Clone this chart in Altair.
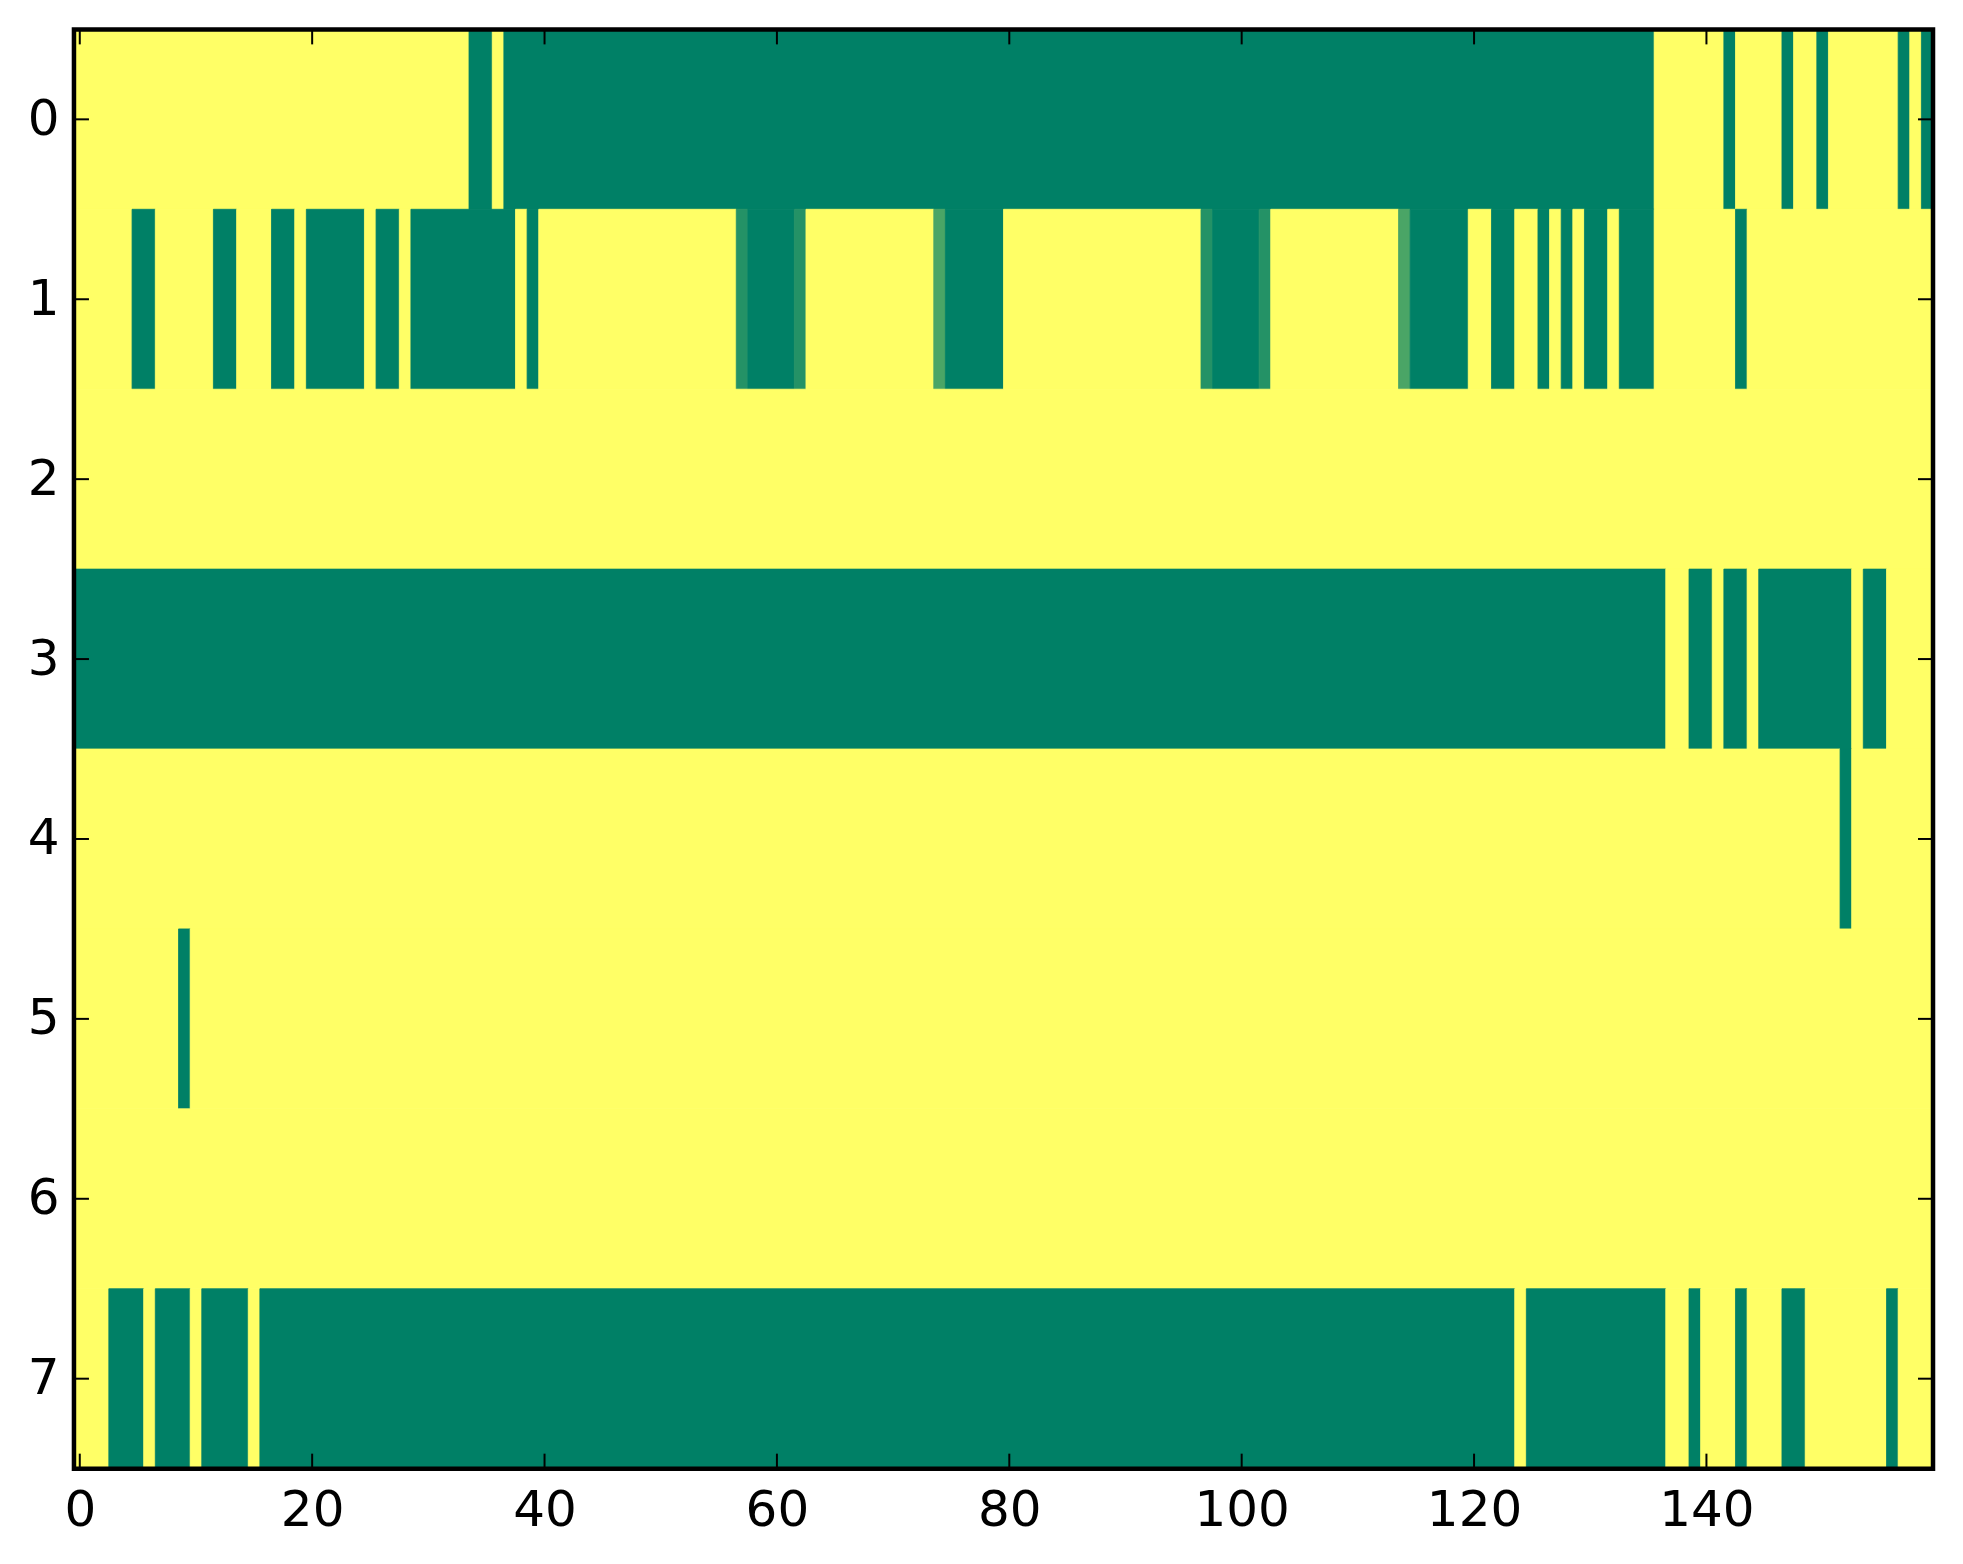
import altair as alt
import pandas as pd

# Cell values: 1 = yellow, 0 = green, A/B = intermediate shades
VALUES = {"Y": 1.0, "G": 0.0, "A": 0.14, "B": 0.29}
N_COLS = 160

# run-length description of each row (symbol, number of consecutive cells)
ROW_0 = [("Y", 34), ("G", 2), ("Y", 1), ("G", 99), ("Y", 6), ("G", 1), ("Y", 4), ("G", 1),
         ("Y", 2), ("G", 1), ("Y", 6), ("G", 1), ("Y", 1), ("G", 1)]
ROW_1 = [("Y", 5), ("G", 2), ("Y", 5), ("G", 2), ("Y", 3), ("G", 2), ("Y", 1), ("G", 5),
         ("Y", 1), ("G", 2), ("Y", 1), ("G", 9), ("Y", 1), ("G", 1), ("Y", 17), ("A", 1),
         ("G", 4), ("A", 1), ("Y", 11), ("B", 1), ("G", 5), ("Y", 17), ("A", 1), ("G", 4),
         ("A", 1), ("Y", 11), ("B", 1), ("G", 5), ("Y", 2), ("G", 2), ("Y", 2), ("G", 1),
         ("Y", 1), ("G", 1), ("Y", 1), ("G", 2), ("Y", 1), ("G", 3), ("Y", 7), ("G", 1),
         ("Y", 16)]
ROW_2 = [("Y", 160)]
ROW_3 = [("G", 137), ("Y", 2), ("G", 2), ("Y", 1), ("G", 2), ("Y", 1), ("G", 8), ("Y", 1),
         ("G", 2), ("Y", 4)]
ROW_4 = [("Y", 152), ("G", 1), ("Y", 7)]
ROW_5 = [("Y", 9), ("G", 1), ("Y", 150)]
ROW_6 = [("Y", 160)]
ROW_7 = [("Y", 3), ("G", 3), ("Y", 1), ("G", 3), ("Y", 1), ("G", 4), ("Y", 1), ("G", 108),
         ("Y", 1), ("G", 12), ("Y", 2), ("G", 1), ("Y", 3), ("G", 1), ("Y", 3), ("G", 2),
         ("Y", 7), ("G", 1), ("Y", 3)]
ROWS = [ROW_0, ROW_1, ROW_2, ROW_3, ROW_4, ROW_5, ROW_6, ROW_7]

X_TICKS = [0, 20, 40, 60, 80, 100, 120, 140]
Y_TICKS = [0, 1, 2, 3, 4, 5, 6, 7]

records = []
for r, runs in enumerate(ROWS):
    start = 0
    for sym, n in runs:
        records.append({"x0": start - 0.5, "x1": start + n - 0.5,
                        "y0": r - 0.5, "y1": r + 0.5, "v": VALUES[sym]})
        start += n
    assert start == N_COLS, (r, start)
df = pd.DataFrame(records)

W, H = 1860, 1440
TL = 15
FONT = "DejaVu Sans"

xs = alt.Scale(domain=[-0.5, N_COLS - 0.5], nice=False, zero=False)
ys = alt.Scale(domain=[-0.5, len(ROWS) - 0.5], nice=False, zero=False, reverse=True)
cs = alt.Scale(domain=[0, 1], range=["#008066", "#ffff66"], interpolate="rgb")

axis_common = dict(title=None, ticks=False, tickSize=0, domain=False, grid=False,
                   labelFontSize=50, labelFont=FONT, labelColor="black",
                   labelFlush=False, labelBound=False, labelOverlap=False, format="d")
x_axis = alt.Axis(values=X_TICKS, labelPadding=17, **axis_common)
y_axis = alt.Axis(values=Y_TICKS, labelPadding=15, **axis_common)

cells = alt.Chart(df).mark_rect(strokeWidth=0.8).encode(
    x=alt.X("x0:Q", scale=xs, axis=x_axis),
    x2="x1:Q",
    y=alt.Y("y0:Q", scale=ys, axis=y_axis),
    y2="y1:Q",
    color=alt.Color("v:Q", scale=cs, legend=None),
    stroke=alt.Stroke("v:Q", scale=cs, legend=None),
)

xt = pd.DataFrame({"t": X_TICKS})
yt = pd.DataFrame({"t": Y_TICKS})
rule = dict(color="black", strokeWidth=2)

tick_b = alt.Chart(xt).mark_rule(**rule).encode(
    x=alt.X("t:Q", scale=xs, axis=x_axis), y=alt.value(H), y2=alt.value(H - TL))
tick_t = alt.Chart(xt).mark_rule(**rule).encode(
    x=alt.X("t:Q", scale=xs, axis=x_axis), y=alt.value(0), y2=alt.value(TL))
tick_l = alt.Chart(yt).mark_rule(**rule).encode(
    y=alt.Y("t:Q", scale=ys, axis=y_axis), x=alt.value(0), x2=alt.value(TL))
tick_r = alt.Chart(yt).mark_rule(**rule).encode(
    y=alt.Y("t:Q", scale=ys, axis=y_axis), x=alt.value(W), x2=alt.value(W - TL))

frame = alt.Chart(pd.DataFrame({"a": [0]})).mark_rect(
    filled=False, fillOpacity=0, stroke="black", strokeWidth=4.5
).encode(x=alt.value(0), x2=alt.value(W), y=alt.value(0), y2=alt.value(H))

chart = alt.layer(cells, tick_b, tick_t, tick_l, tick_r, frame).properties(
    width=W, height=H,
    autosize=alt.AutoSizeParams(type="none"),
    padding={"left": 66, "top": 21, "right": 22, "bottom": 90},
    background="white",
).configure_view(stroke=None)

chart.save("out.html", embed_options={"renderer": "svg", "actions": False})
